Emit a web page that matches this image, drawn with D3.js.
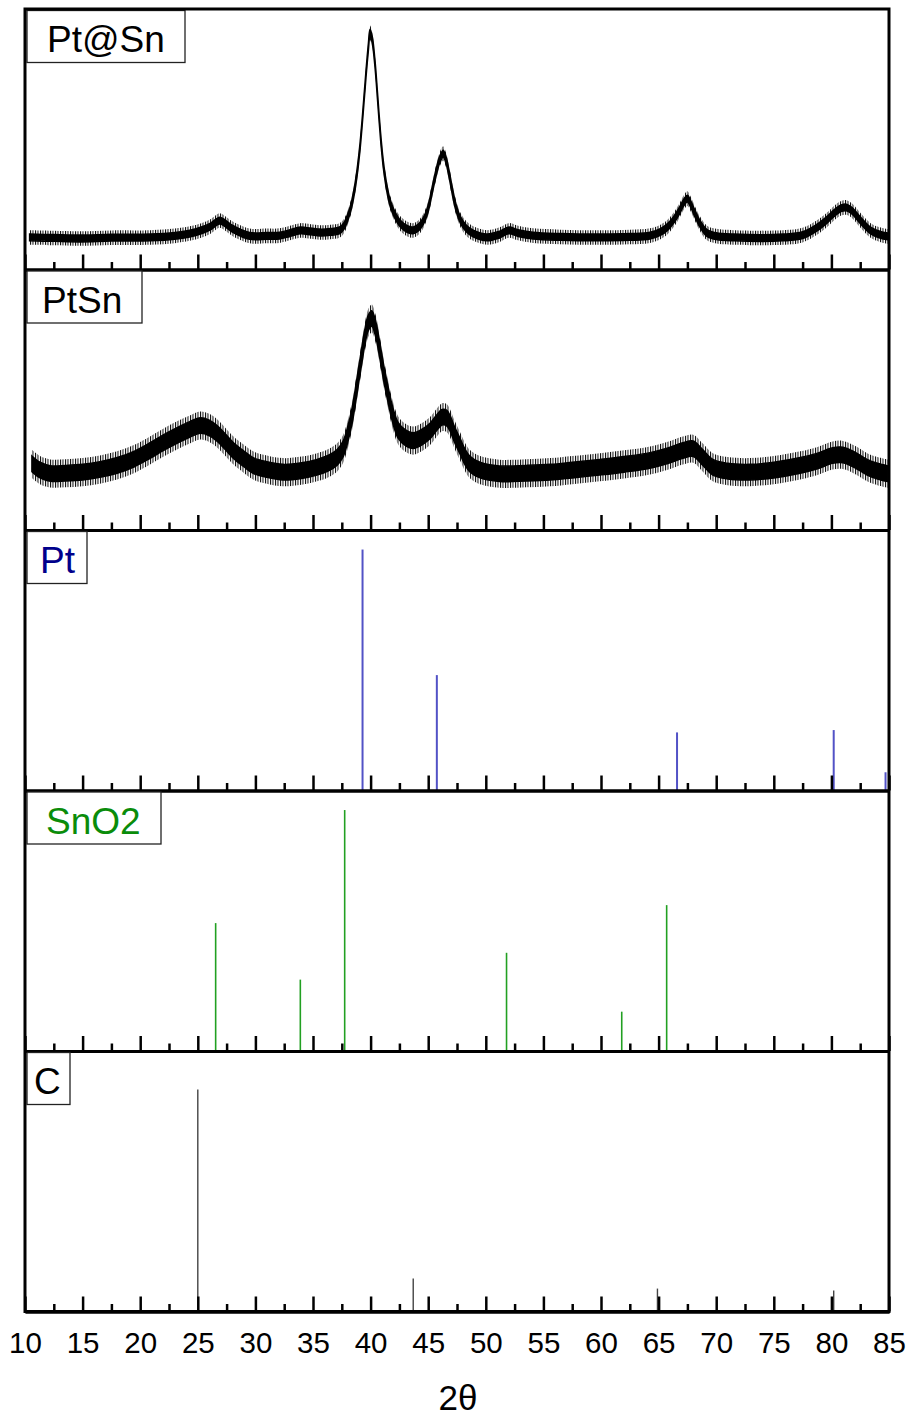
<!DOCTYPE html>
<html>
<head>
<meta charset="utf-8">
<script src="https://cdn.jsdelivr.net/npm/d3@7"></script>
<style>
  body { margin: 0; background: #fff; }
  svg { display: block; font-family: "Liberation Sans", Arial, sans-serif; }
</style>
</head>
<body>
<div id="chart"></div>
<script>
// ---- data (2θ in degrees, intensity in % of panel height) ----
const ptAtSnTheta = [10.4, 12.5, 14.8, 17.5, 20.9, 23.0, 24.3, 25.3, 26.1, 26.9, 27.5, 28.0, 29.5, 31.0, 32.1, 33.0, 33.9, 34.8,
  35.6, 36.5, 37.3, 37.7, 38.0, 38.3, 38.6, 38.85, 39.1, 39.35, 39.6, 39.8, 39.95, 40.15, 40.4, 40.6, 40.85, 41.1, 41.4, 41.7,
  42.1, 42.6, 43.2, 43.7, 44.2, 44.6, 45.0, 45.35, 45.7, 46.0, 46.3, 46.55, 46.8, 47.1, 47.4, 47.8, 48.3, 48.9, 50.1, 51.2, 52.0,
  52.8, 54.1, 56.5, 59.9, 62.5, 64.25, 65.2, 65.8, 66.3, 66.8, 67.2, 67.5, 67.8, 68.2, 68.6, 69.2, 70.0, 71.5, 75.8, 77.5,
  78.75, 79.6, 80.3, 80.9, 81.3, 81.8, 82.3, 82.8, 83.4, 84.2, 84.9];
const ptAtSnI = [12.3, 12.1, 11.9, 12.2, 12.3, 12.9, 13.8, 15.0, 16.5, 18.8, 17.3, 15.7, 12.9, 12.9, 13.0, 14.0, 15.0, 14.6,
  14.2, 14.4, 15.0, 16.8, 19.8, 24.0, 30.5, 38.0, 48.0, 61.0, 75.0, 85.0, 90.9, 88.0, 78.0, 66.5, 52.0, 40.5, 31.5, 25.5,
  21.0, 17.5, 15.5, 15.0, 16.3, 18.8, 23.5, 30.5, 37.5, 42.2, 44.5, 42.0, 37.0, 30.0, 24.0, 19.0, 15.8, 13.8, 12.3, 13.4, 15.0,
  14.0, 13.0, 12.5, 12.3, 12.5, 13.0, 14.5, 16.4, 19.0, 22.5, 25.8, 27.2, 25.0, 21.0, 17.5, 14.0, 12.8, 12.3, 12.3, 13.2,
  16.1, 19.0, 21.9, 23.6, 23.8, 22.5, 20.0, 17.5, 15.0, 13.4, 12.7];

const ptSnTheta = [10.6, 11.3, 12.2, 13.5, 15.0, 16.5, 18.0, 19.5, 20.85, 22.0, 23.2, 24.3, 25.2, 26.0, 26.7, 27.4, 28.1, 29.0,
  29.8, 31.0, 32.4, 34.0, 35.35, 36.3, 37.1, 37.6, 37.95, 38.4, 38.8, 39.2, 39.5, 39.8, 40.1, 40.45, 40.8, 41.15, 41.5, 41.9,
  42.4, 43.0, 43.7, 44.5, 45.2, 45.7, 46.2, 46.6, 46.9, 47.3, 47.8, 48.2, 48.6, 49.5, 51.2, 53.5, 55.6, 57.5, 59.9, 62.0,
  64.25, 65.8, 67.1, 68.0, 68.8, 69.7, 71.0, 72.9, 75.0, 77.3, 78.8, 80.1, 81.0, 82.0, 83.1, 84.0, 84.9];
const ptSnI = [25.4, 23.0, 21.7, 21.8, 22.2, 23.2, 24.8, 27.3, 30.5, 33.5, 36.3, 38.6, 40.1, 39.2, 37.0, 33.8, 30.5, 27.3,
  24.8, 23.2, 22.2, 22.8, 24.1, 25.6, 27.9, 31.0, 35.6, 44.0, 54.8, 66.0, 74.0, 79.5, 81.2, 77.0, 68.9, 60.0, 52.4, 44.5,
  38.2, 35.5, 34.3, 35.8, 38.2, 41.0, 43.3, 43.0, 40.9, 36.5, 31.8, 28.0, 25.4, 23.0, 21.6, 21.8, 22.2, 23.0, 24.1, 25.2,
  26.7, 28.5, 30.5, 31.2, 28.0, 24.1, 22.6, 22.2, 23.0, 24.8, 26.5, 28.6, 28.8, 27.0, 24.1, 22.6, 21.6];

// vertical spread of the noisy band (same units), solid core and outer fuzz
const ptAtSnNoise = [1.3, 2.8];
const ptSnNoise = [3.0, 5.4];

const ptRefTheta = [39.3, 45.75, 66.6, 80.2, 84.7];
const ptRefI = [92.5, 44.3, 22.3, 23.2, 7.0];

const sno2RefTheta = [26.55, 33.9, 37.75, 51.8, 61.8, 65.7];
const sno2RefI = [49.1, 27.4, 92.5, 37.7, 15.1, 56.0];

const cRefTheta = [25.0, 43.7, 64.9, 80.2];
const cRefI = [85.2, 12.7, 8.8, 8.1];

const panelLabels = ["Pt@Sn", "PtSn", "Pt", "SnO2", "C"];
const majorTicks = d3.range(10, 86, 5);
const minorTicks = d3.range(12.5, 85, 5);
const xTitle = "2θ";

// ---- layout ----
const width = 911, height = 1419;
const plotLeft = 25, plotRight = 889, plotTop = 9, panelH = 260.5;
const labelColors = ["#000", "#000", "#00008b", "#0a8c0a", "#000"];
const boxW = [158, 115, 60, 134, 43];
const textX = [47, 42, 40, 46, 34];

const svg = d3.select("#chart").append("svg")
  .attr("width", width).attr("height", height);

// thin vertical hatching to fake the spiky edge of the noisy scans
svg.append("defs").append("pattern")
  .attr("id", "fuzz")
  .attr("patternUnits", "userSpaceOnUse")
  .attr("width", 2.5).attr("height", 10)
  .append("rect")
  .attr("width", 1).attr("height", 10)
  .attr("fill", "#000");

const x = d3.scaleLinear([10, 85], [plotLeft, plotRight]);

const panels = [
  {type: "scan", theta: ptAtSnTheta, I: ptAtSnI, noise: ptAtSnNoise},
  {type: "scan", theta: ptSnTheta, I: ptSnI, noise: ptSnNoise},
  {type: "stick", theta: ptRefTheta, I: ptRefI, color: "#5252c6", w: 2},
  {type: "stick", theta: sno2RefTheta, I: sno2RefI, color: "#22a022", w: 1.6},
  {type: "stick", theta: cRefTheta, I: cRefI, color: "#444", w: 1.4}
];

panels.forEach((p, i) => {
  const y0 = plotTop + i * panelH, y1 = y0 + panelH;
  const y = d3.scaleLinear([0, 100], [y1, y0]);
  const g = svg.append("g");

  if (p.type === "scan") {
    const pts = d3.zip(p.theta, p.I);
    const band = s => d3.area()
      .curve(d3.curveCatmullRom.alpha(0.5))
      .x(d => x(d[0]))
      .y0(d => y(d[1] - s))
      .y1(d => y(d[1] + s));
    g.append("path")
      .datum(pts)
      .attr("fill", "url(#fuzz)")
      .attr("d", band(p.noise[1]));
    g.append("path")
      .datum(pts)
      .attr("fill", "#000")
      .attr("stroke", "#000")
      .attr("stroke-width", 1.5)
      .attr("d", band(p.noise[0]));
  } else {
    g.selectAll("line.stick")
      .data(d3.zip(p.theta, p.I))
      .join("line")
      .attr("class", "stick")
      .attr("x1", d => x(d[0])).attr("x2", d => x(d[0]))
      .attr("y1", y(0)).attr("y2", d => y(d[1]))
      .attr("stroke", p.color)
      .attr("stroke-width", p.w);
  }

  // inward ticks on the bottom edge of each panel
  const major = g.append("g")
    .attr("transform", `translate(0,${y1})`)
    .call(d3.axisTop(x).tickValues(majorTicks).tickSize(15).tickSizeOuter(0).tickFormat(""));
  const minor = g.append("g")
    .attr("transform", `translate(0,${y1})`)
    .call(d3.axisTop(x).tickValues(minorTicks).tickSize(7.5).tickSizeOuter(0).tickFormat(""));
  [major, minor].forEach(a => {
    a.selectAll(".tick line").attr("stroke", "#000").attr("stroke-width", 2.5);
    a.select(".domain").attr("stroke", "#000").attr("stroke-width", 3);
  });

  // label box
  g.append("rect")
    .attr("x", 27).attr("y", y0 + 1.5)
    .attr("width", boxW[i]).attr("height", 52)
    .attr("fill", "#fff")
    .attr("stroke", "#222")
    .attr("stroke-width", 1.3);
  g.append("text")
    .attr("x", textX[i]).attr("y", y0 + 43)
    .attr("font-size", 37)
    .attr("fill", labelColors[i])
    .text(panelLabels[i]);
});

// outer frame
svg.append("rect")
  .attr("x", plotLeft).attr("y", plotTop)
  .attr("width", plotRight - plotLeft).attr("height", panelH * 5)
  .attr("fill", "none")
  .attr("stroke", "#000")
  .attr("stroke-width", 3);

// tick labels under the last panel
const labelAxis = svg.append("g")
  .attr("transform", `translate(0,${plotTop + panelH * 5})`)
  .call(d3.axisBottom(x).tickValues(majorTicks).tickSize(0).tickPadding(21).tickFormat(d3.format("d")));
labelAxis.select(".domain").remove();
labelAxis.selectAll("text")
  .attr("font-size", 29.5)
  .attr("font-family", "Liberation Sans, Arial, sans-serif")
  .attr("fill", "#000");

svg.append("text")
  .attr("x", 458)
  .attr("y", 1410)
  .attr("text-anchor", "middle")
  .attr("font-size", 35)
  .text(xTitle);
</script>
</body>
</html>
